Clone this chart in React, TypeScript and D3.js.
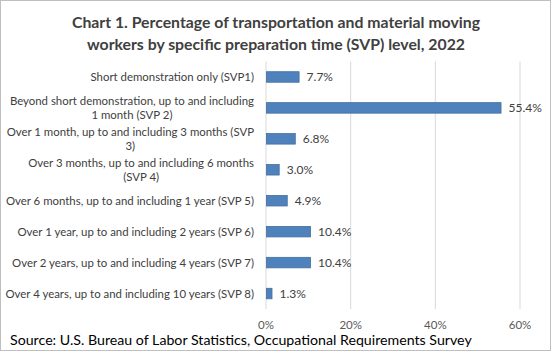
import React, { useEffect, useRef } from "react";
import * as d3 from "d3";

// categories as wrapped label lines
const categories = [
  ["Short demonstration only (SVP1)"],
  ["Beyond short demonstration, up to and including", "1 month (SVP 2)"],
  ["Over 1 month, up to and including 3 months (SVP", "3)"],
  ["Over 3 months, up to and including 6 months", "(SVP 4)"],
  ["Over 6 months, up to and including 1 year (SVP 5)"],
  ["Over 1 year, up to and including 2 years (SVP 6)"],
  ["Over 2 years, up to and including 4 years (SVP 7)"],
  ["Over 4 years, up to and including 10 years (SVP 8)"],
];
const values = [7.7, 55.4, 6.8, 3.0, 4.9, 10.4, 10.4, 1.3];
const xTicks = [0, 20, 40, 60];

const titleLines = [
  "Chart 1. Percentage of transportation and material moving",
  "workers by specific preparation time (SVP) level, 2022",
];
const source = "Source: U.S. Bureau of Labor Statistics, Occupational Requirements Survey";

const W = 551;
const H = 351;

export default function App() {
  const ref = useRef<SVGSVGElement>(null);

  useEffect(() => {
    document.body.style.margin = "0";
    const svg = d3.select(ref.current);
    svg.selectAll("*").remove();

    const font = "Lato, sans-serif";
    const margin = { top: 61.5, left: 266, right: 31, bottom: 42 };
    const width = W - margin.left - margin.right;
    const height = H - margin.top - margin.bottom;

    svg.append("rect")
      .attr("x", 0.5).attr("y", 0.5)
      .attr("width", W - 1).attr("height", H - 1)
      .attr("fill", "#fff").attr("stroke", "#bfbfbf");

    // title
    svg.append("g").selectAll("text").data(titleLines).enter().append("text")
      .attr("x", 276)
      .attr("y", (d, i) => 28 + i * 22)
      .attr("text-anchor", "middle")
      .attr("font-family", font)
      .attr("font-weight", "bold")
      .attr("font-size", 15.8)
      .attr("fill", "#404040")
      .text((d) => d);

    const x = d3.scaleLinear().domain([0, 60]).range([0, width]);
    const y = d3.scaleBand<number>()
      .domain(values.map((d, i) => i))
      .range([0, height])
      .paddingInner(0.66)
      .paddingOuter(0.33);

    const g = svg.append("g").attr("transform", `translate(${margin.left},${margin.top})`);

    // gridlines
    g.selectAll(".grid").data(xTicks).enter().append("line")
      .attr("x1", (d) => x(d)).attr("x2", (d) => x(d))
      .attr("y1", 0).attr("y2", height)
      .attr("stroke", "#d9d9d9").attr("stroke-width", 1);

    // bars
    g.selectAll(".bar").data(values).enter().append("rect")
      .attr("x", x(0) + 0.5)
      .attr("y", (d, i) => y(i)!)
      .attr("width", (d) => x(d) - x(0))
      .attr("height", y.bandwidth())
      .attr("fill", "#4f81bd")
      .attr("stroke", "#41719c")
      .attr("stroke-width", 0.8);

    // value labels
    g.selectAll(".val").data(values).enter().append("text")
      .attr("x", (d) => x(d) + 8)
      .attr("y", (d, i) => y(i)! + y.bandwidth() / 2)
      .attr("dy", "0.35em")
      .attr("font-family", font)
      .attr("font-size", 12)
      .attr("fill", "#404040")
      .text((d) => d.toFixed(1) + "%");

    // category labels, sized so the longest one fits the reference width
    const lx = -12;
    const probe = svg.append("text").attr("font-family", font).attr("font-size", 10)
      .text(categories[7][0]);
    const pw = (probe.node() as SVGTextElement).getComputedTextLength();
    probe.remove();
    const catSize = Math.min(12.5, (10 * 249) / pw);

    const cat = g.selectAll(".cat").data(categories).enter().append("text")
      .attr("font-family", font)
      .attr("font-size", catSize)
      .attr("fill", "#404040");
    cat.each(function (lines, i) {
      const t = d3.select(this);
      const cy = y(i)! + y.bandwidth() / 2;
      const lh = 14.5;
      const start = cy - ((lines.length - 1) * lh) / 2;
      lines.forEach((l, j) => {
        t.append("tspan")
          .attr("x", lx)
          .attr("text-anchor", j === 0 ? "end" : "middle")
          .attr("y", start + j * lh)
          .attr("dy", "0.35em")
          .text(l);
      });
    });
    // center second lines under first line
    cat.each(function () {
      const tspans = d3.select(this).selectAll<SVGTSpanElement, unknown>("tspan").nodes();
      if (tspans.length > 1) {
        const w0 = tspans[0].getComputedTextLength();
        tspans[1].setAttribute("x", String(lx - w0 / 2));
      }
    });

    // x axis labels
    g.selectAll(".tick").data(xTicks).enter().append("text")
      .attr("x", (d) => x(d))
      .attr("y", height + 20)
      .attr("text-anchor", "middle")
      .attr("font-family", font)
      .attr("font-size", 11.5)
      .attr("fill", "#595959")
      .text((d) => d + "%");

    svg.append("text")
      .attr("x", 10)
      .attr("y", 345)
      .attr("font-family", font)
      .attr("font-size", 14.2)
      .attr("fill", "#000")
      .text(source);
  }, []);

  return (
    <div style={{ width: W, height: H }}>
      <svg ref={ref} width={W} height={H} style={{ display: "block" }} />
    </div>
  );
}
